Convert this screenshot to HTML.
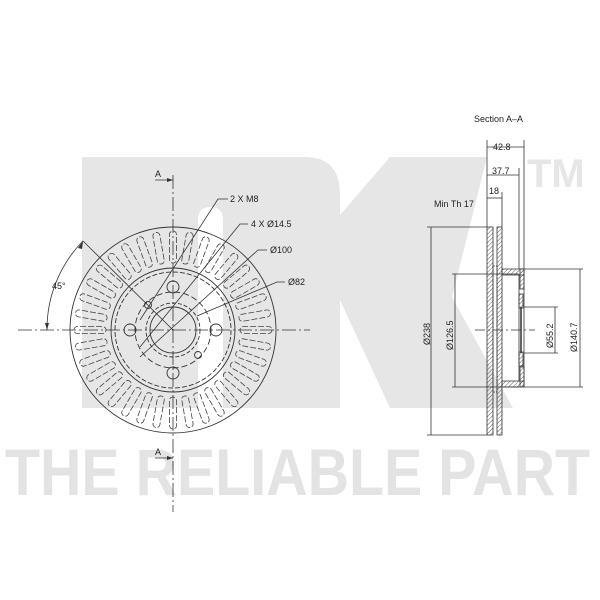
<!DOCTYPE html>
<html><head><meta charset="utf-8"><style>
html,body{margin:0;padding:0;background:#fff;width:600px;height:600px;overflow:hidden}
svg{display:block}
text{font-family:"Liberation Sans",sans-serif}
</style></head><body>
<svg width="600" height="600" viewBox="0 0 600 600" xmlns="http://www.w3.org/2000/svg">
<defs>
<pattern id="h" width="3" height="3" patternUnits="userSpaceOnUse" patternTransform="rotate(45)">
<line x1="0" y1="0" x2="0" y2="3" stroke="#333" stroke-width="0.8"/></pattern>
<g id="vane"><rect x="-3.5" y="-99" width="7" height="32" rx="3.5" fill="none" stroke="#444" stroke-width="0.8" stroke-dasharray="6 2"/></g>
</defs>
<g fill="#e6e6e6">
<path d="M82 157 H305 Q340 157 340 195 V408 H223 V220 Q223 207 210 207 Q198 207 198 220 V408 H82 Z"/>
<polygon points="390,157 487,157 452,297 513,408 390,408 340,300 340,215"/>
<text x="527" y="187" font-size="40" font-weight="bold" fill="#e6e6e6">TM</text>
<text x="5" y="495" font-size="66" font-weight="bold" textLength="585" lengthAdjust="spacingAndGlyphs" fill="#e3e3e3">THE RELIABLE PART</text>
</g>
<g stroke="#333" fill="none" stroke-width="0.9">
<circle cx="173" cy="330" r="103"/>
<circle cx="173" cy="330" r="62"/>
<circle cx="173" cy="330" r="58" stroke-dasharray="5 2"/>
<circle cx="173" cy="330" r="38" stroke-dasharray="6 3"/>
<circle cx="173" cy="330" r="23"/>
<circle cx="173" cy="330" r="27" stroke-dasharray="4 2"/>
<circle cx="173" cy="287" r="6"/><circle cx="173" cy="373" r="6"/>
<circle cx="130" cy="330" r="6"/><circle cx="216" cy="330" r="6"/>
<circle cx="148" cy="305" r="3.5"/><circle cx="198" cy="355" r="3.5"/>
</g>
<g transform="translate(173,330)">
<use href="#vane" transform="rotate(0)"/><use href="#vane" transform="rotate(10)"/><use href="#vane" transform="rotate(20)"/><use href="#vane" transform="rotate(30)"/><use href="#vane" transform="rotate(40)"/><use href="#vane" transform="rotate(50)"/><use href="#vane" transform="rotate(60)"/><use href="#vane" transform="rotate(70)"/><use href="#vane" transform="rotate(80)"/><use href="#vane" transform="rotate(90)"/><use href="#vane" transform="rotate(100)"/><use href="#vane" transform="rotate(110)"/><use href="#vane" transform="rotate(120)"/><use href="#vane" transform="rotate(130)"/><use href="#vane" transform="rotate(140)"/><use href="#vane" transform="rotate(150)"/><use href="#vane" transform="rotate(160)"/><use href="#vane" transform="rotate(170)"/><use href="#vane" transform="rotate(180)"/><use href="#vane" transform="rotate(190)"/><use href="#vane" transform="rotate(200)"/><use href="#vane" transform="rotate(210)"/><use href="#vane" transform="rotate(220)"/><use href="#vane" transform="rotate(230)"/><use href="#vane" transform="rotate(240)"/><use href="#vane" transform="rotate(250)"/><use href="#vane" transform="rotate(260)"/><use href="#vane" transform="rotate(270)"/><use href="#vane" transform="rotate(280)"/><use href="#vane" transform="rotate(290)"/><use href="#vane" transform="rotate(300)"/><use href="#vane" transform="rotate(310)"/><use href="#vane" transform="rotate(320)"/><use href="#vane" transform="rotate(330)"/><use href="#vane" transform="rotate(340)"/><use href="#vane" transform="rotate(350)"/>
</g>
<g stroke="#333" fill="none" stroke-width="0.8">
<line x1="18" y1="330" x2="310" y2="330" stroke-dasharray="14 3 2 3"/>
<line x1="173" y1="175" x2="173" y2="512" stroke-dasharray="14 3 2 3"/>
<polyline points="155,180 173,180"/><polyline points="155,458 173,458"/>
<line x1="83" y1="241" x2="173" y2="330"/>
<path d="M83 241 A126 126 0 0 0 47 330"/>
<polyline points="228,199 218,199 140,320"/>
<polyline points="248,224 240,224 140,347"/>
<polyline points="267,250 258,250 140,357"/>
<polyline points="285,282 277,282 197,316"/>
</g>
<g fill="#333">
<polygon points="173,180 167,178 167,182"/><polygon points="173,458 167,456 167,460"/>
<polygon points="83,241 78,248 82,249"/><polygon points="47,330 45,323 49,323"/>
</g>
<g font-size="9" fill="#222">
<text x="155" y="177">A</text><text x="155" y="455">A</text>
<text x="52" y="289">45°</text>
<text x="230" y="202">2 X M8</text>
<text x="251" y="227">4 X Ø14.5</text>
<text x="270" y="253">Ø100</text>
<text x="288" y="285">Ø82</text>
<text x="474" y="122">Section A–A</text>
<text x="434" y="207">Min Th 17</text>
<text x="493" y="150">42.8</text>
<text x="492" y="174">37.7</text>
<text x="489" y="194">18</text>
<text transform="translate(430,345) rotate(-90)">Ø238</text>
<text transform="translate(453,350) rotate(-90)">Ø126.5</text>
<text transform="translate(553,348) rotate(-90)">Ø55.2</text>
<text transform="translate(577,352) rotate(-90)">Ø140.7</text>
</g>
<g stroke="#333" stroke-width="0.8">
<rect x="487" y="227" width="6" height="208" fill="url(#h)"/>
<rect x="497" y="227" width="5" height="208" fill="url(#h)"/>
<rect x="493" y="266" width="4" height="126" fill="none" stroke-dasharray="2 1"/>
<polygon points="502,269 524,269 524,275 502,275" fill="url(#h)"/>
<polygon points="502,381 524,381 524,387 502,387" fill="url(#h)"/>
<rect x="520" y="269" width="4" height="20" fill="url(#h)"/>
<rect x="520" y="367" width="4" height="20" fill="url(#h)"/>
<rect x="519" y="294" width="4" height="14" fill="url(#h)"/>
<rect x="519" y="352" width="4" height="14" fill="url(#h)"/>
<line x1="521" y1="307" x2="521" y2="353" stroke-width="1.5"/>
<g fill="none">
<line x1="524" y1="269" x2="524" y2="387"/>
<line x1="519" y1="275" x2="519" y2="381"/>
<line x1="487" y1="140" x2="487" y2="227"/><line x1="524" y1="140" x2="524" y2="269"/>
<line x1="519" y1="168" x2="519" y2="269"/><line x1="502" y1="192" x2="502" y2="227"/>
<line x1="487" y1="147" x2="524" y2="147"/><line x1="487" y1="175" x2="519" y2="175"/>
<line x1="487" y1="198" x2="502" y2="198"/>
<line x1="427" y1="227" x2="487" y2="227"/><line x1="427" y1="435" x2="487" y2="435"/>
<line x1="431" y1="227" x2="431" y2="435"/>
<line x1="452" y1="274" x2="519" y2="274"/><line x1="452" y1="387" x2="519" y2="387"/>
<line x1="455" y1="274" x2="455" y2="387"/>
<line x1="524" y1="269" x2="583" y2="269"/><line x1="524" y1="387" x2="583" y2="387"/>
<line x1="580" y1="269" x2="580" y2="387"/>
<line x1="524" y1="307" x2="558" y2="307"/><line x1="524" y1="353" x2="558" y2="353"/>
<line x1="555" y1="307" x2="555" y2="353"/>
<line x1="475" y1="330" x2="535" y2="330" stroke-dasharray="10 3 2 3"/>
</g>
</g>
</svg>
</body></html>
